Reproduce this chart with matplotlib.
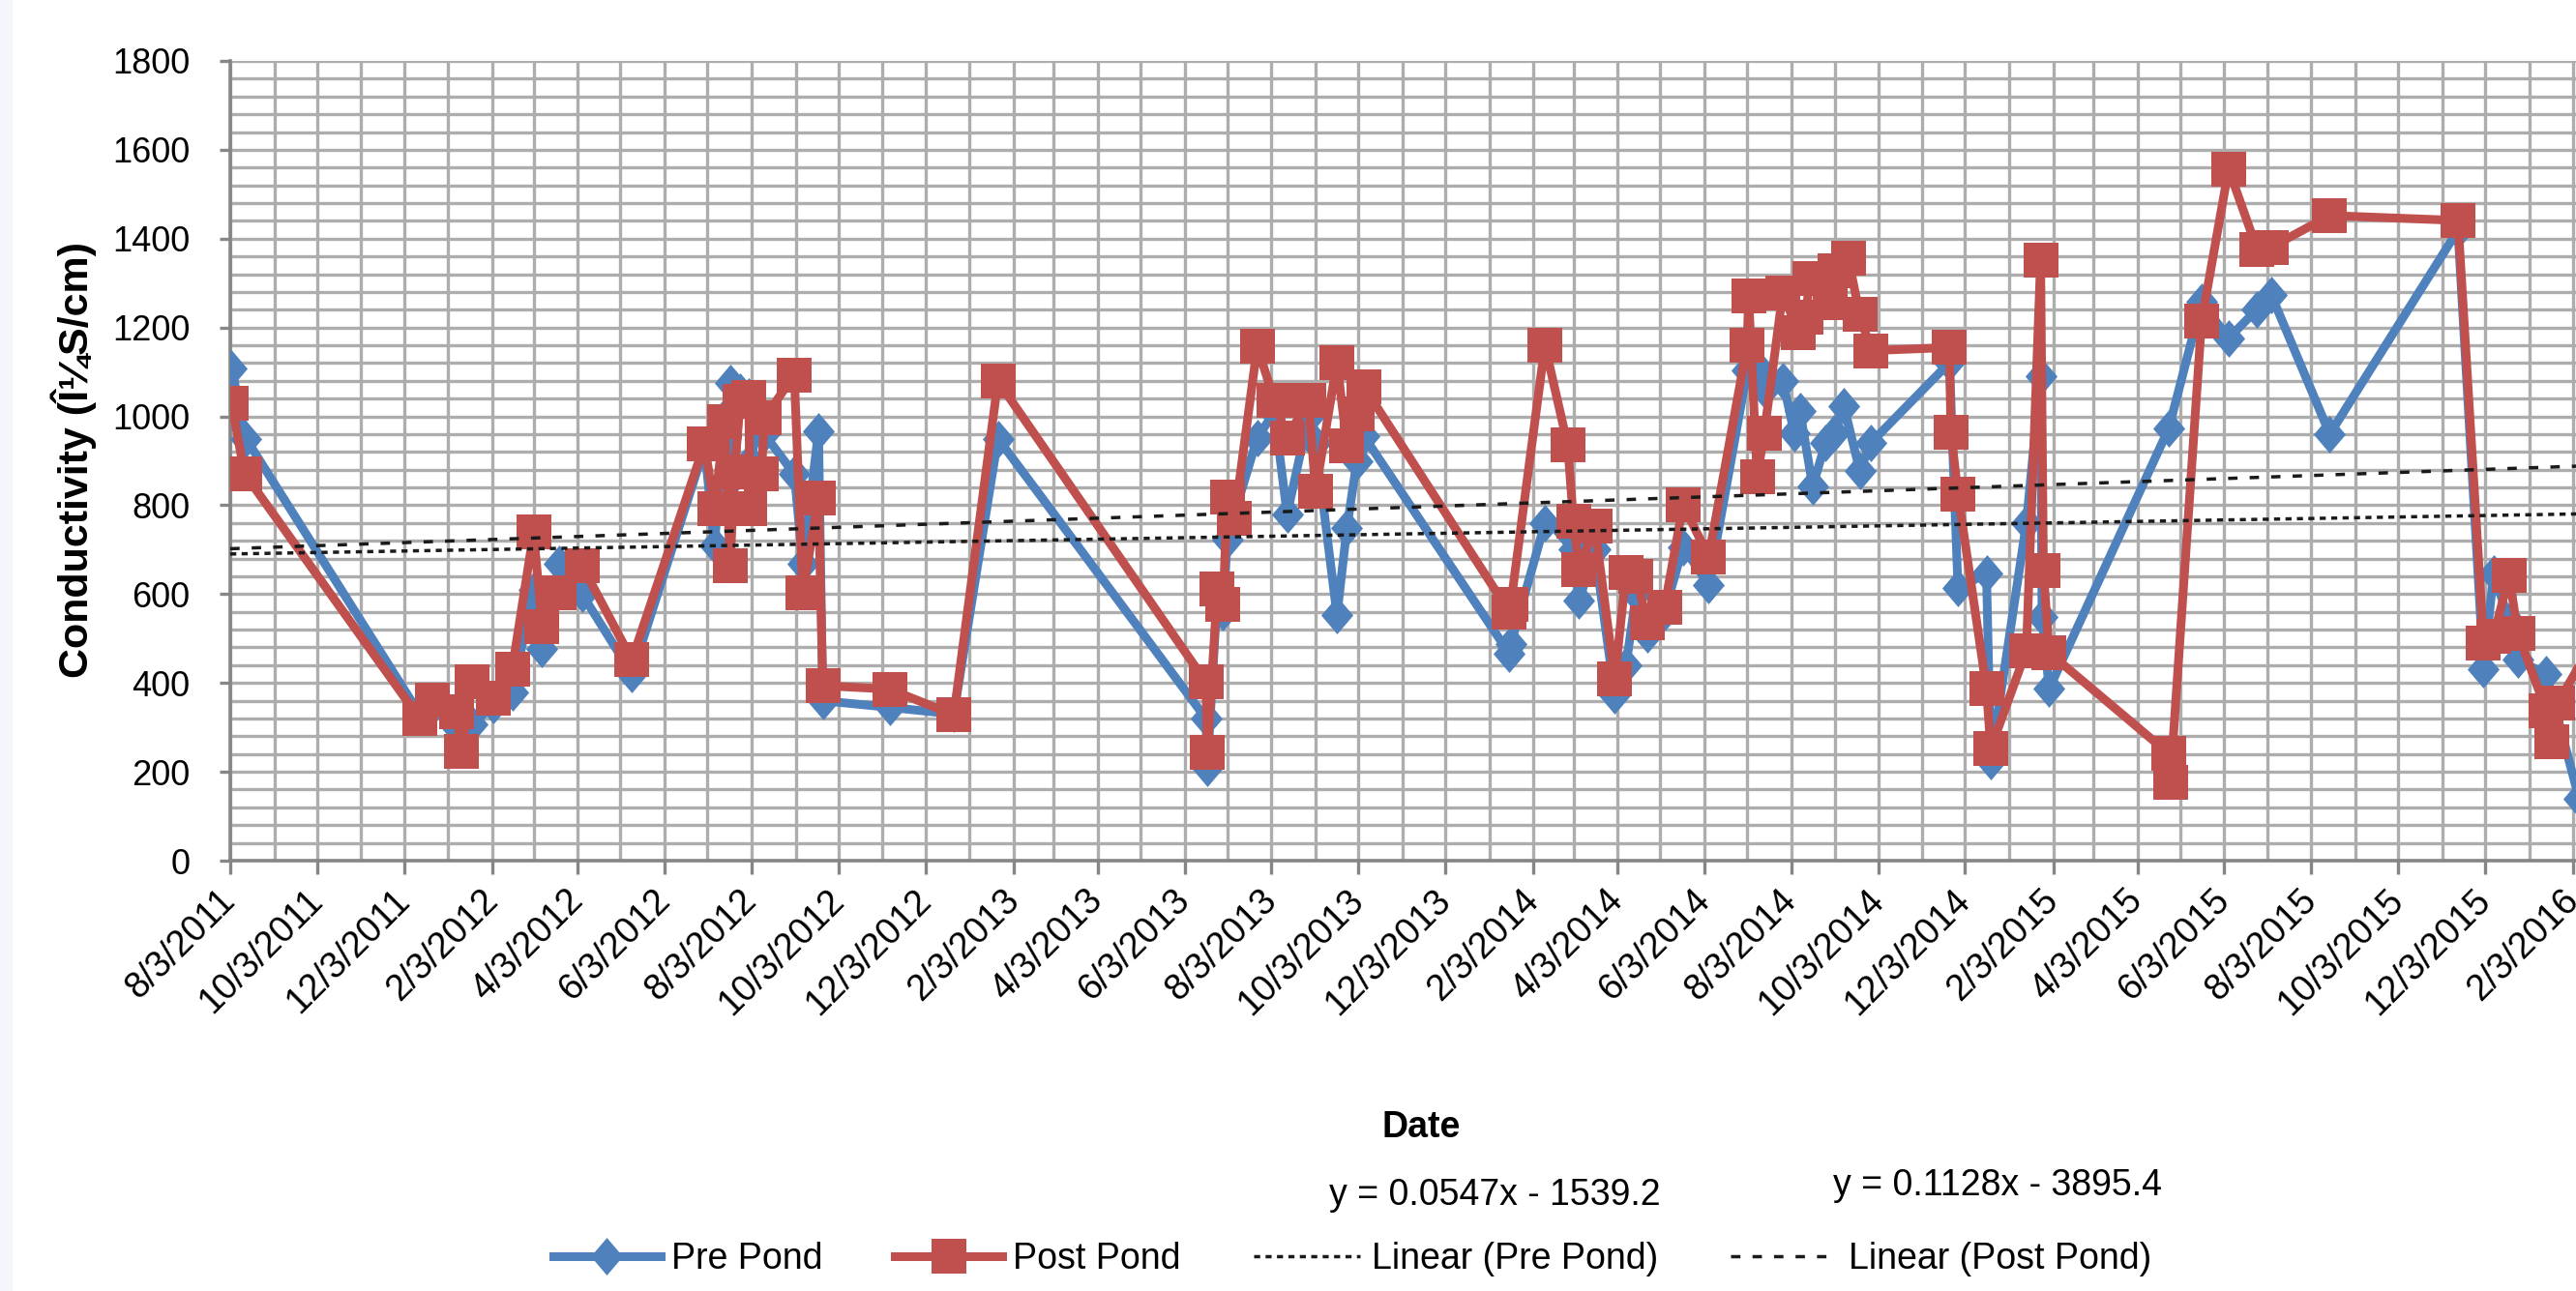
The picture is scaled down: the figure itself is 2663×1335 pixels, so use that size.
import numpy as np
import pandas as pd
import matplotlib
matplotlib.use("Agg")
import matplotlib.pyplot as plt
import matplotlib.dates as mdates
from matplotlib.lines import Line2D
from matplotlib.patches import Rectangle
from matplotlib.ticker import MultipleLocator, FixedLocator

# ---------------- data ----------------
pre_dates = ["2011-08-04", "2011-08-14", "2011-12-14", "2011-12-23", "2012-01-09", "2012-01-12",
             "2012-01-20", "2012-02-04", "2012-02-17", "2012-03-03", "2012-03-09", "2012-03-21",
             "2012-04-06", "2012-05-11", "2012-07-01", "2012-07-08", "2012-07-15", "2012-07-19",
             "2012-07-22", "2012-07-26", "2012-08-01", "2012-08-02", "2012-08-10", "2012-08-12",
             "2012-09-02", "2012-09-08", "2012-09-19", "2012-09-22", "2012-11-08", "2012-12-23",
             "2013-01-23", "2013-06-18", "2013-06-19", "2013-06-26", "2013-06-30", "2013-07-03",
             "2013-07-08", "2013-07-24", "2013-08-05", "2013-08-14", "2013-08-29", "2013-09-03",
             "2013-09-18", "2013-09-25", "2013-10-02", "2013-10-07", "2014-01-17", "2014-01-18",
             "2014-02-11", "2014-02-27", "2014-03-03", "2014-03-07", "2014-03-18", "2014-04-01",
             "2014-04-09", "2014-04-16", "2014-04-24", "2014-05-06", "2014-05-19", "2014-06-06",
             "2014-07-03", "2014-07-10", "2014-07-15", "2014-07-28", "2014-08-05", "2014-08-09",
             "2014-08-18", "2014-08-27", "2014-09-02", "2014-09-09", "2014-09-20", "2014-09-28",
             "2014-11-22", "2014-11-28", "2014-12-18", "2014-12-21", "2015-01-15", "2015-01-25",
             "2015-01-26", "2015-01-31", "2015-04-25", "2015-05-18", "2015-06-06", "2015-06-26",
             "2015-07-06", "2015-08-16", "2015-11-14", "2015-12-02", "2015-12-09", "2015-12-20",
             "2015-12-26", "2016-01-15", "2016-02-07"]
pre_vals = [1108, 950, 330, 345, 300, 280,
            307, 350, 378, 610, 477, 668,
            600, 420, 930, 710, 1000, 1075,
            867, 1055, 1045, 900, 1000, 960,
            870, 668, 967, 360, 345, 330,
            950, 320, 210, 600, 560, 723,
            780, 951, 1010, 779, 1000, 940,
            552, 749, 900, 955, 466, 487,
            760, 740, 700, 585, 700, 373,
            440, 600, 510, 560, 706, 621,
            1103, 1110, 1060, 1080, 963, 1013,
            842, 941, 963, 1022, 878, 941,
            1121, 614, 646, 225, 760, 1090,
            549, 387, 973, 1257, 1176, 1241,
            1273, 960, 1419, 430, 646, 540,
            452, 419, 140]

post_dates = ["2011-08-04", "2011-08-13", "2011-12-14", "2011-12-23", "2012-01-09", "2012-01-12",
              "2012-01-20", "2012-02-04", "2012-02-17", "2012-03-03", "2012-03-09", "2012-03-21",
              "2012-04-06", "2012-05-11", "2012-07-01", "2012-07-08", "2012-07-15", "2012-07-19",
              "2012-07-22", "2012-07-26", "2012-08-01", "2012-08-02", "2012-08-10", "2012-08-12",
              "2012-09-02", "2012-09-08", "2012-09-19", "2012-09-22", "2012-11-08", "2012-12-23",
              "2013-01-23", "2013-06-18", "2013-06-19", "2013-06-26", "2013-06-30", "2013-07-03",
              "2013-07-08", "2013-07-24", "2013-08-05", "2013-08-14", "2013-08-29", "2013-09-03",
              "2013-09-18", "2013-09-25", "2013-10-02", "2013-10-07", "2014-01-17", "2014-01-18",
              "2014-02-11", "2014-02-27", "2014-03-03", "2014-03-07", "2014-03-18", "2014-04-01",
              "2014-04-09", "2014-04-16", "2014-04-24", "2014-05-06", "2014-05-19", "2014-06-06",
              "2014-07-03", "2014-07-04", "2014-07-10", "2014-07-15", "2014-07-28", "2014-08-08",
              "2014-08-13", "2014-08-16", "2014-08-30", "2014-09-03", "2014-09-12", "2014-09-20",
              "2014-09-28", "2014-11-22", "2014-11-23", "2014-11-28", "2014-12-18", "2014-12-21",
              "2015-01-15", "2015-01-25", "2015-01-27", "2015-01-31", "2015-04-25", "2015-04-26",
              "2015-05-18", "2015-06-06", "2015-06-26", "2015-07-06", "2015-08-16", "2015-11-14",
              "2015-12-02", "2015-12-09", "2015-12-20", "2015-12-26", "2016-01-15", "2016-01-19",
              "2016-01-23", "2016-02-22"]
post_vals = [1029, 871, 320, 361, 336, 245,
             403, 365, 432, 739, 527, 602,
             664, 452, 938, 793, 988, 664,
             876, 1033, 1042, 793, 871, 996,
             1093, 603, 817, 394, 386, 328,
             1079, 402, 243, 612, 577, 818,
             770, 1157, 1037, 951, 1037, 831,
             1122, 934, 1006, 1066, 560, 577,
             1160, 935, 764, 656, 752, 410,
             648, 639, 535, 571, 801, 684,
             1161, 1271, 864, 963, 1278, 1188,
             1224, 1310, 1256, 1328, 1355, 1229,
             1148, 1155, 965, 825, 387, 252,
             473, 1351, 652, 468, 241, 176,
             1214, 1557, 1376, 1381, 1452, 1441,
             490, 506, 641, 511, 338, 268,
             355, 520]

# Excel trendline equations (x = Excel date serial)
pre_trend = (0.0547, -1539.2)
post_trend = (0.1128, -3895.4)
pre_eq_text = "y = 0.0547x - 1539.2"
post_eq_text = "y = 0.1128x - 3895.4"

x_range = ["2011-08-03", "2016-03-01"]
tick_dates = pd.date_range("2011-08-03", "2016-02-03", freq=pd.DateOffset(months=2))
tick_labels = [f"{d.month}/{d.day}/{d.year}" for d in tick_dates]
month_lines = pd.date_range("2011-08-03", "2016-03-01", freq=pd.DateOffset(months=1))
y_ticks = list(range(0, 1801, 200))

series_names = ["Pre Pond", "Post Pond", "Linear (Pre Pond)", "Linear (Post Pond)"]

# ---------------- style ----------------
plt.rcParams['font.family'] = ['Liberation Sans', 'DejaVu Sans']
BLUE = '#4F81BD'
RED = '#C0504D'
GRID = '#ADADAD'
AXC = '#868686'
TREND = '#1A1A1A'

W, H = 2663, 1335
fig = plt.figure(figsize=(W / 100, H / 100), dpi=100)
fig.patch.set_facecolor('white')
fig.patches.append(Rectangle((0, 0), 13 / W, 1, transform=fig.transFigure,
                             facecolor='#F3F7FC', edgecolor='none', zorder=-5))

left_px, right_px, top_px, bot_px = 238, 2700, 63, 890
ax = fig.add_axes([left_px / W, (H - bot_px) / H, (right_px - left_px) / W, (bot_px - top_px) / H])
ax.set_facecolor('white')

diamond = [(0, 1), (0.85, 0), (0, -1), (-0.85, 0), (0, 1)]
LW = 6.5
MS_D = 28
MS_S = 26

pre_x = pd.to_datetime(pre_dates)
post_x = pd.to_datetime(post_dates)

ax.plot(pre_x, pre_vals, color=BLUE, lw=LW, marker=diamond, ms=MS_D,
        markerfacecolor=BLUE, markeredgecolor=BLUE, markeredgewidth=0, zorder=3,
        solid_joinstyle='round')
ax.plot(post_x, post_vals, color=RED, lw=LW, marker='s', ms=MS_S,
        markerfacecolor=RED, markeredgecolor=RED, markeredgewidth=0, zorder=4,
        solid_joinstyle='round')

xr = pd.to_datetime(x_range)
xr_num = mdates.date2num(xr)
serial = xr_num + 25569.0
pre_y = pre_trend[0] * serial + pre_trend[1]
post_y = post_trend[0] * serial + post_trend[1]
ax.plot(xr, pre_y, color=TREND, lw=2.5, linestyle=(0, (1.8, 1.6)), zorder=5)
ax.plot(xr, post_y, color=TREND, lw=2.5, linestyle=(0, (2.8, 3.6)), zorder=5)

ax.set_xlim(xr[0], xr[1])
ax.set_ylim(0, 1800)

ax.set_yticks(y_ticks)
ax.yaxis.set_minor_locator(MultipleLocator(40))
ax.xaxis.set_major_locator(FixedLocator(mdates.date2num(tick_dates)))
ax.xaxis.set_minor_locator(FixedLocator(mdates.date2num(month_lines)))
ax.set_xticklabels(tick_labels, rotation=45, ha='right', va='center',
                   rotation_mode='anchor', fontsize=27)
ax.tick_params(axis='y', which='major', labelsize=26, length=8, width=2.4, color=AXC, pad=22)
ax.tick_params(axis='x', which='major', length=10, width=2.4, color=AXC, pad=16)
ax.tick_params(which='minor', length=0)

ax.grid(which='both', axis='both', color=GRID, lw=2.4)
ax.set_axisbelow(True)
for s in ['top', 'right']:
    ax.spines[s].set_visible(False)
for s in ['left', 'bottom']:
    ax.spines[s].set_color(AXC)
    ax.spines[s].set_linewidth(2.6)
    ax.spines[s].set_zorder(2.5)

fig.text(0.0287, 0.644, "Conductivity (Î¼S/cm)", rotation=90, ha='center', va='center',
         fontsize=31, fontweight='bold')
fig.text(1469 / W, (H - 1166) / H, "Date", ha='center', va='center', fontsize=27, fontweight='bold')
fig.text(1545 / W, (H - 1236) / H, pre_eq_text, ha='center', va='center', fontsize=27)
fig.text(2065 / W, (H - 1226) / H, post_eq_text, ha='center', va='center', fontsize=27)

handles = [
    Line2D([], [], color=BLUE, lw=LW, marker=diamond, ms=MS_D, markeredgewidth=0),
    Line2D([], [], color=RED, lw=LW, marker='s', ms=MS_S, markeredgewidth=0),
    Line2D([], [], color=TREND, lw=2.5, linestyle=(0, (1.8, 1.6))),
    Line2D([], [], color=TREND, lw=2.5, linestyle=(0, (2.8, 3.6))),
]
fig.legend(handles, series_names, loc='center', bbox_to_anchor=(1398 / W, (H - 1302) / H),
           ncol=4, frameon=False, fontsize=27, handlelength=2.95, handletextpad=0.3,
           columnspacing=2.0, numpoints=1)

fig.savefig("out.png", dpi=100, facecolor='white')
